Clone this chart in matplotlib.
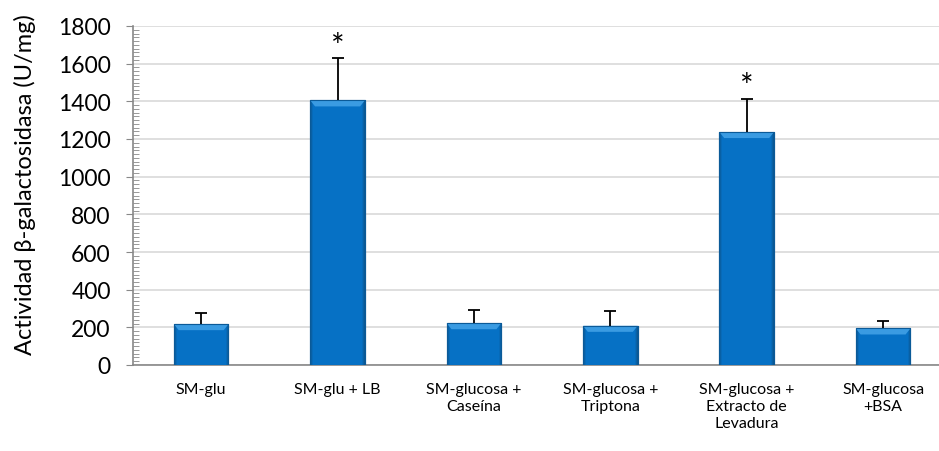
import matplotlib
matplotlib.use("Agg")
import numpy as np
import matplotlib.pyplot as plt
from matplotlib.ticker import MultipleLocator
from matplotlib.colors import LinearSegmentedColormap
from matplotlib.patches import Polygon

# Actividad beta-galactosidasa por medio de cultivo
categorias = [
    "SM-glu",
    "SM-glu + LB",
    "SM-glucosa +\nCaseína",
    "SM-glucosa +\nTriptona",
    "SM-glucosa +\nExtracto de\nLevadura",
    "SM-glucosa\n+BSA",
]
actividad = [217, 1405, 222, 208, 1237, 194]
error = [60, 225, 70, 78, 178, 42]
significativo = [False, True, False, False, True, False]

plt.rcParams["font.family"] = ["Lato", "DejaVu Sans"]

fig = plt.figure(figsize=(9.39, 4.52), dpi=100)
ax = fig.add_axes([133 / 939, 1 - 366 / 452, 1 - 133 / 939, (366 - 27) / 452])

x = list(range(len(categorias)))
bars = ax.bar(x, actividad, width=0.4, color="#0672c6", edgecolor="#0b5a98",
              linewidth=0.8, zorder=3)

# relleno con bordes laterales oscuros y bisel claro arriba
cuerpo = LinearSegmentedColormap.from_list("cuerpo", ["#0b5894", "#0672c6", "#0b5894"])
perfil = np.full((1, 40), 0.5)
perfil[0, :2] = [0.0, 0.3]
perfil[0, -2:] = [0.7, 1.0]
bisel_h = 32   # alto del bisel (unidades del eje y)
bisel_w = 0.035
for rect in bars:
    x0, w, h = rect.get_x(), rect.get_width(), rect.get_height()
    im = ax.imshow(perfil, cmap=cuerpo, vmin=0, vmax=1, aspect="auto",
                   interpolation="bilinear", extent=(x0, x0 + w, 0, h), zorder=3.1)
    im.set_clip_path(rect)
    top = Polygon([(x0, h), (x0 + w, h), (x0 + w - bisel_w, h - bisel_h),
                   (x0 + bisel_w, h - bisel_h)], closed=True,
                  facecolor="#3a9be2", edgecolor="none", zorder=3.2)
    ax.add_patch(top)
    ax.add_patch(plt.Rectangle((x0, 0), w, h, fill=False, edgecolor="#0b5a98",
                               linewidth=0.8, zorder=3.3))
ax.set_xlim(-0.5, 5.41)
ax.set_ylim(0, 1800)

_, caps, _ = ax.errorbar(x, actividad, yerr=[[0] * len(error), error], fmt="none",
                         ecolor="black", elinewidth=1.3, capsize=4.5,
                         capthick=1.3, zorder=4)
caps[0].set_visible(False)  # solo la barra superior

for xi, v, e, s in zip(x, actividad, error, significativo):
    if s:
        ax.text(xi, v + e - 20, "*", ha="center", va="bottom", fontsize=23)

ax.yaxis.set_major_locator(MultipleLocator(200))
ax.yaxis.set_minor_locator(MultipleLocator(20))
ax.grid(True, axis="y", color="#d9d9d9", linewidth=1.2, zorder=0)

ax.set_xticks(x)
ax.set_xticklabels(categorias, fontsize=11.5, linespacing=1.3)
ax.tick_params(axis="x", length=0, pad=12)
ax.tick_params(axis="y", which="major", direction="out", length=5,
               color="#888888", labelsize=16.5, pad=11)
ax.tick_params(axis="y", which="minor", direction="in", length=4,
               color="#888888")
ax.set_ylabel("Actividad β-galactosidasa (U/mg)", fontsize=17)
ax.yaxis.set_label_coords(-0.12, 0.534)

for side in ["top", "right"]:
    ax.spines[side].set_visible(False)
for side in ["left", "bottom"]:
    ax.spines[side].set_color("#888888")
    ax.spines[side].set_linewidth(1.2)

plt.savefig("out.png", dpi=100)
plt.close()
